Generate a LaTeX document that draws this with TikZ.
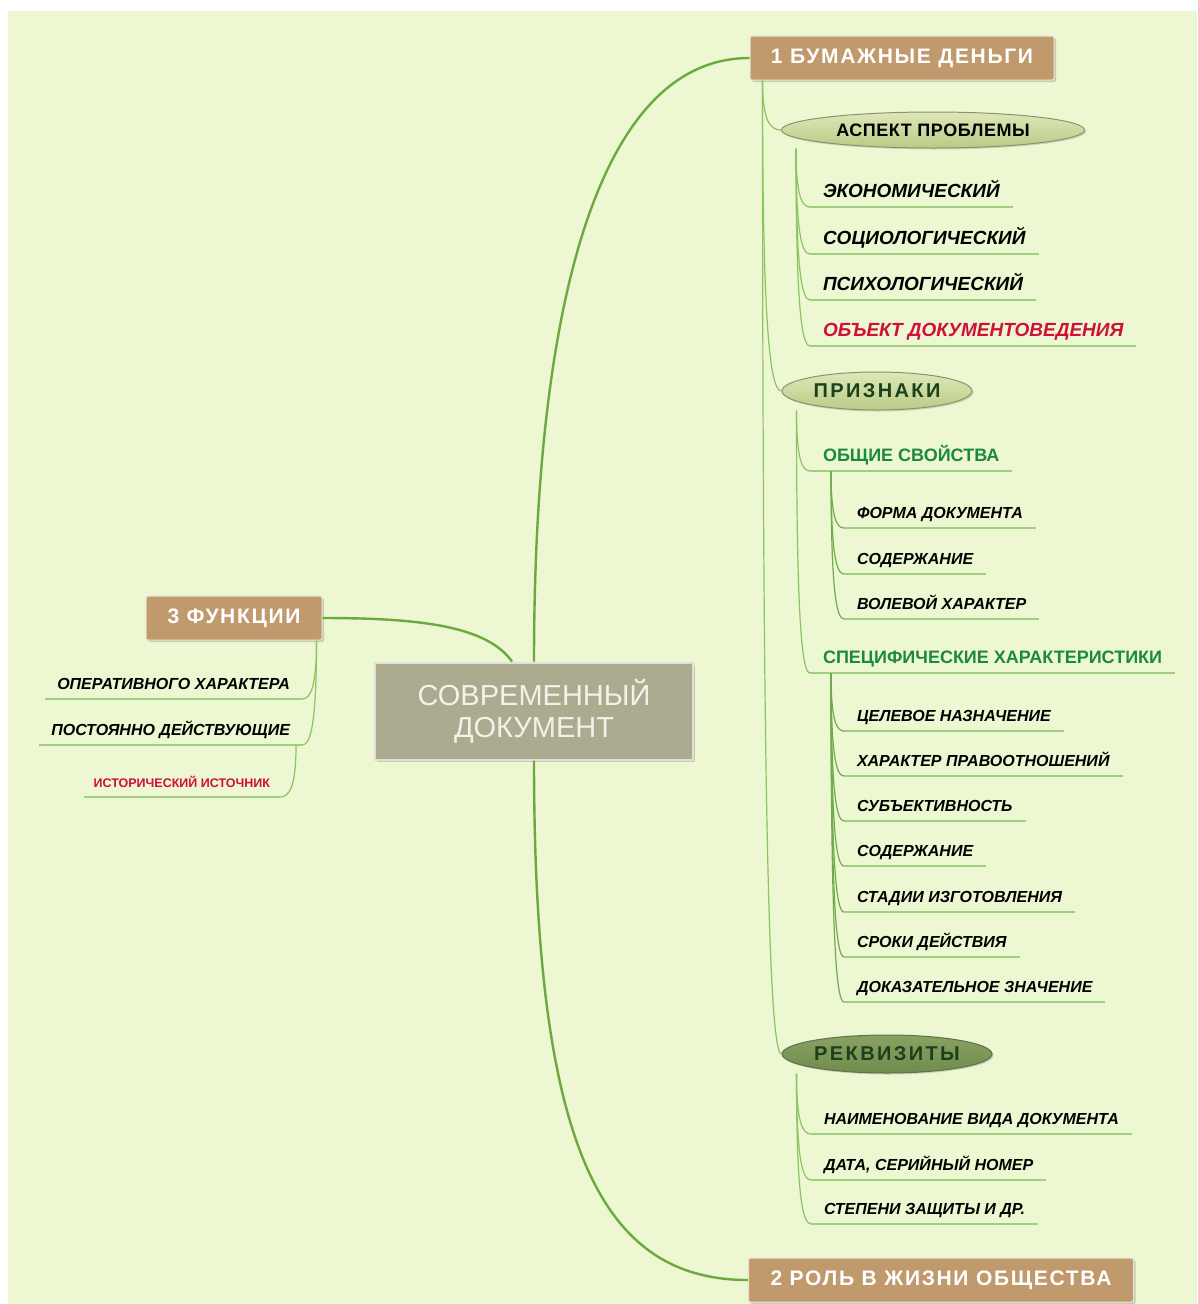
\documentclass[tikz,border=0pt]{standalone}
\usepackage{fontspec}
\setmainfont{Liberation Sans}
\usetikzlibrary{shapes.geometric, shadows, calc}
\definecolor{colBg}{RGB}{237,247,209}
\definecolor{colTan}{RGB}{192,154,108}
\definecolor{colTanLine}{RGB}{236,228,210}
\definecolor{colDoc}{RGB}{173,171,143}
\definecolor{colDocLine}{RGB}{224,224,212}
\definecolor{colDocText}{RGB}{242,242,232}
\definecolor{colTrunk}{RGB}{106,170,62}
\definecolor{colBranch}{RGB}{140,196,100}
\definecolor{colLeaf}{RGB}{160,207,125}
\definecolor{colSub}{RGB}{112,172,78}
\definecolor{colRed}{RGB}{208,16,58}
\definecolor{colGreenTxt}{RGB}{28,138,60}
\definecolor{colOvalTop}{RGB}{222,232,184}
\definecolor{colOvalBot}{RGB}{186,202,134}
\definecolor{colOvalLine}{RGB}{138,148,108}
\definecolor{colOvalDarkTop}{RGB}{136,162,98}
\definecolor{colOvalDarkBot}{RGB}{112,140,76}
\definecolor{colOvalDarkLine}{RGB}{96,112,76}
\definecolor{colOvalText}{RGB}{28,64,30}
\tikzset{
  topicBox/.style={
    rectangle, rounded corners=2pt,
    fill=colTan, draw=colTanLine, line width=1pt,
    text=white, font=\bfseries\fontsize{21}{24}\selectfont\addfontfeature{LetterSpace=8},
    inner xsep=4pt, minimum height=44pt,
    drop shadow={shadow xshift=2pt, shadow yshift=-2pt, opacity=0.35}
  },
  docBox/.style={
    rectangle, fill=colDoc, draw=colDocLine, line width=2pt,
    text=colDocText, font=\fontsize{29}{32}\selectfont, align=center,
    minimum width=318pt, minimum height=97pt,
    drop shadow={shadow xshift=2pt, shadow yshift=-2pt, opacity=0.35}
  },
  oval/.style={
    ellipse, inner sep=0pt, line width=1pt,
    draw=colOvalLine, top color=colOvalTop, bottom color=colOvalBot,
    drop shadow={shadow xshift=1.5pt, shadow yshift=-1.5pt, opacity=0.3}
  },
  ovalDark/.style={oval, draw=colOvalDarkLine, top color=colOvalDarkTop, bottom color=colOvalDarkBot},
  leaf/.style={
    anchor=south west, inner xsep=13pt, inner ysep=0pt, outer sep=0pt,
    text height=14pt, text depth=10pt,
    font=\bfseries\itshape\fontsize{19}{22}\selectfont,
    append after command={(\tikzlastnode.south west) edge[draw=colLeaf, line width=1.2pt] (\tikzlastnode.south east)}
  },
  subLeaf/.style={leaf, text height=12pt, font=\bfseries\itshape\fontsize{16}{19}\selectfont},
  leftLeaf/.style={subLeaf, anchor=south east, inner xsep=12pt},
  greenLeaf/.style={leaf, text=colGreenTxt, font=\bfseries\fontsize{18}{21}\selectfont},
  trunk/.style={draw=colTrunk, line width=2.4pt},
  branch/.style={draw=colBranch, line width=1.2pt,
    to path={.. controls ($(\tikztostart)!0.8!(\tikztostart|-\tikztotarget)$)
                    and ($(\tikztotarget)!0.6!(\tikztostart|-\tikztotarget)$) .. (\tikztotarget)}},
  subBranch/.style={branch, draw=colSub},
}

\begin{document}
\begin{tikzpicture}[x=1pt, y=-1pt]

\useasboundingbox (0,0) rectangle (1197,1304);
\fill[colBg] (8,11) rectangle (1197,1304);

% ---- Main topics ----------------------------------------------
\node[docBox] (doc) at (534,711) {СОВРЕМЕННЫЙ\\ДОКУМЕНТ};
\node[topicBox, minimum width=304pt] (bum) at (902,58) {1 БУМАЖНЫЕ ДЕНЬГИ};
\node[topicBox, minimum width=176pt] (fun) at (234,618) {3 ФУНКЦИИ};
\node[topicBox, minimum width=385pt] (rol) at (941,1280) {2 РОЛЬ В ЖИЗНИ ОБЩЕСТВА};

% ---- Ovals ----------------------------------------------------
\node[oval, minimum width=303pt, minimum height=36pt, font=\bfseries\fontsize{18}{20}\selectfont\addfontfeature{LetterSpace=3}] (asp) at (933,130) {АСПЕКТ ПРОБЛЕМЫ};
\node[oval, minimum width=190pt, minimum height=38pt, text=colOvalText, font=\bfseries\fontsize{20}{22}\selectfont\addfontfeature{LetterSpace=12}] (pri) at (877,391) {ПРИЗНАКИ};
\node[ovalDark, minimum width=210pt, minimum height=38pt, text=colOvalText, font=\bfseries\fontsize{20}{22}\selectfont\addfontfeature{LetterSpace=12}] (rek) at (887,1054) {РЕКВИЗИТЫ};

% ---- Aspect leaves --------------------------------------------
\node[leaf] (eko) at (810,207) {ЭКОНОМИЧЕСКИЙ};
\node[leaf] (soc) at (810,254) {СОЦИОЛОГИЧЕСКИЙ};
\node[leaf] (psy) at (810,300) {ПСИХОЛОГИЧЕСКИЙ};
\node[leaf, text=colRed] (obj) at (810,346) {ОБЪЕКТ ДОКУМЕНТОВЕДЕНИЯ};

% ---- Features -------------------------------------------------
\node[greenLeaf] (obs) at (810,471) {ОБЩИЕ СВОЙСТВА};
\node[subLeaf] (forma) at (844,528) {ФОРМА ДОКУМЕНТА};
\node[subLeaf] (sodA) at (844,574) {СОДЕРЖАНИЕ};
\node[subLeaf] (vol) at (844,619) {ВОЛЕВОЙ ХАРАКТЕР};

\node[greenLeaf] (spe) at (810,673) {СПЕЦИФИЧЕСКИЕ ХАРАКТЕРИСТИКИ};
\node[subLeaf] (cel) at (844,731) {ЦЕЛЕВОЕ НАЗНАЧЕНИЕ};
\node[subLeaf] (har) at (844,776) {ХАРАКТЕР ПРАВООТНОШЕНИЙ};
\node[subLeaf] (sub) at (844,821) {СУБЪЕКТИВНОСТЬ};
\node[subLeaf] (sodB) at (844,866) {СОДЕРЖАНИЕ};
\node[subLeaf] (sta) at (844,912) {СТАДИИ ИЗГОТОВЛЕНИЯ};
\node[subLeaf] (sro) at (844,957) {СРОКИ ДЕЙСТВИЯ};
\node[subLeaf] (dok) at (844,1002) {ДОКАЗАТЕЛЬНОЕ ЗНАЧЕНИЕ};

% ---- Requisites -----------------------------------------------
\node[subLeaf] (nai) at (811,1134) {НАИМЕНОВАНИЕ ВИДА ДОКУМЕНТА};
\node[subLeaf] (dat) at (811,1180) {ДАТА, СЕРИЙНЫЙ НОМЕР};
\node[subLeaf] (ste) at (811,1224) {СТЕПЕНИ ЗАЩИТЫ И ДР.};

% ---- Functions ------------------------------------------------
\node[leftLeaf] (ope) at (302,699) {ОПЕРАТИВНОГО ХАРАКТЕРА};
\node[leftLeaf] (pos) at (302,745) {ПОСТОЯННО ДЕЙСТВУЮЩИЕ};
\node[leftLeaf, inner xsep=10pt, text height=9pt, text=colRed, font=\bfseries\fontsize{12.5}{14}\selectfont] (ist) at (280,797) {ИСТОРИЧЕСКИЙ ИСТОЧНИК};

% ---- Branch roots ---------------------------------------------
\coordinate (bumT) at ($(bum.south west)+(13,0)$);
\coordinate (aspT) at ($(asp.west|-asp.south)+(15,0)$);
\coordinate (priT) at ($(pri.west|-pri.south)+(15,0)$);
\coordinate (rekT) at ($(rek.west|-rek.south)+(15,0)$);
\coordinate (obsT) at ($(obs.south west)+(21,0)$);
\coordinate (speT) at ($(spe.south west)+(21,0)$);
\coordinate (funT) at ($(fun.south east)+(-6,0)$);
\coordinate (posT) at ($(pos.south east)+(-6,0)$);

% ---- Connectors -----------------------------------------------
\draw[trunk] (doc.north) .. controls +(0,-360) and +(-150,0) .. (bum.west);
\draw[trunk] (doc.south) .. controls +(0,380) and +(-150,0) .. (rol.west);
\draw[trunk] ([xshift=-22pt]doc.north) .. controls +(-25,-35) and +(100,0) .. (fun.east);

\draw[branch] (bumT) to (asp.west);
\draw[branch] (bumT) to (pri.west);
\draw[branch] (bumT) to (rek.west);

\draw[branch] (aspT) to (eko.south west);
\draw[branch] (aspT) to (soc.south west);
\draw[branch] (aspT) to (psy.south west);
\draw[branch] (aspT) to (obj.south west);

\draw[branch] (priT) to (obs.south west);
\draw[branch] (priT) to (spe.south west);
\draw[subBranch] (obsT) to (forma.south west);
\draw[subBranch] (obsT) to (sodA.south west);
\draw[subBranch] (obsT) to (vol.south west);
\draw[subBranch] (speT) to (cel.south west);
\draw[subBranch] (speT) to (har.south west);
\draw[subBranch] (speT) to (sub.south west);
\draw[subBranch] (speT) to (sodB.south west);
\draw[subBranch] (speT) to (sta.south west);
\draw[subBranch] (speT) to (sro.south west);
\draw[subBranch] (speT) to (dok.south west);

\draw[branch] (rekT) to (nai.south west);
\draw[branch] (rekT) to (dat.south west);
\draw[branch] (rekT) to (ste.south west);

\draw[branch] (funT) to (ope.south east);
\draw[branch] (funT) to (pos.south east);
\draw[branch] (posT) to (ist.south east);

\end{tikzpicture}
\end{document}
